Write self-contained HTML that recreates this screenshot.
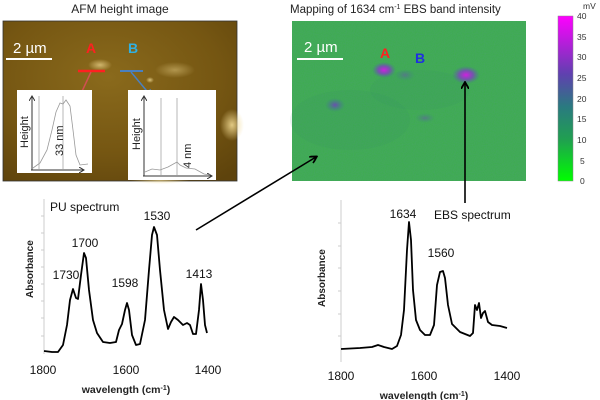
<!DOCTYPE html>
<html><head><meta charset="utf-8"><style>
html,body{margin:0;padding:0;background:#fff;width:600px;height:400px;overflow:hidden}
svg text{font-family:"Liberation Sans",sans-serif}
</style></head><body>
<svg width="600" height="400" viewBox="0 0 600 400" xmlns="http://www.w3.org/2000/svg">
<defs>
<radialGradient id="afm" cx="0.45" cy="0.35" r="0.8">
<stop offset="0" stop-color="#8a6a1c"/><stop offset="0.6" stop-color="#755612"/><stop offset="1" stop-color="#5e430c"/>
</radialGradient>
<radialGradient id="glow"><stop offset="0" stop-color="#f0d890"/><stop offset="1" stop-color="#f0d890" stop-opacity="0"/></radialGradient>
<radialGradient id="pb"><stop offset="0" stop-color="#d020e0"/><stop offset="0.5" stop-color="#8040c0" stop-opacity="0.8"/><stop offset="1" stop-color="#4a6aa0" stop-opacity="0"/></radialGradient>
<radialGradient id="bb"><stop offset="0" stop-color="#6a50b0"/><stop offset="1" stop-color="#3a7a90" stop-opacity="0"/></radialGradient>
<linearGradient id="cb" x1="0" y1="1" x2="0" y2="0">
<stop offset="0" stop-color="#00ff00"/><stop offset="0.25" stop-color="#20a050"/><stop offset="0.45" stop-color="#2a7a80"/><stop offset="0.65" stop-color="#6040b0"/><stop offset="1" stop-color="#ff00ff"/>
</linearGradient>
<filter id="noise"><feTurbulence type="fractalNoise" baseFrequency="0.9" numOctaves="1" result="n"/><feColorMatrix type="matrix" values="0 0 0 0 0.1  0 0 0 0 0.3  0 0 0 0 0.3  0 0 0 0.35 0"/><feComposite in2="SourceGraphic" operator="in"/></filter>
<marker id="ah" markerWidth="8" markerHeight="8" refX="6" refY="4" orient="auto" markerUnits="userSpaceOnUse"><path d="M0,0 L7,4 L0,8" fill="none" stroke="#000" stroke-width="1.8"/></marker>
<marker id="ahr" markerWidth="8" markerHeight="8" refX="6" refY="4" orient="auto" markerUnits="userSpaceOnUse"><path d="M0,0 L7,4 L0,8" fill="none" stroke="#d05050" stroke-width="1.5"/></marker>
<marker id="ahb" markerWidth="8" markerHeight="8" refX="6" refY="4" orient="auto" markerUnits="userSpaceOnUse"><path d="M0,0 L7,4 L0,8" fill="none" stroke="#4a80c0" stroke-width="1.5"/></marker>
<marker id="ak" markerWidth="6" markerHeight="6" refX="5" refY="3" orient="auto" markerUnits="userSpaceOnUse"><path d="M0,0 L5,3 L0,6" fill="none" stroke="#333" stroke-width="1"/></marker>
</defs>

<!-- AFM -->
<text x="120" y="13" font-size="12" text-anchor="middle" fill="#222">AFM height image</text>
<rect x="3" y="21" width="234" height="160" fill="url(#afm)" stroke="#333" stroke-width="0.8"/>
<ellipse cx="100" cy="65" rx="12" ry="6" fill="url(#glow)" opacity="0.7"/>
<ellipse cx="175" cy="70" rx="20" ry="8" fill="url(#glow)" opacity="0.45"/>
<ellipse cx="150" cy="80" rx="4" ry="3" fill="url(#glow)" opacity="0.8"/>
<ellipse cx="232" cy="125" rx="12" ry="16" fill="url(#glow)" opacity="0.9"/>
<ellipse cx="160" cy="180" rx="30" ry="4" fill="url(#glow)" opacity="0.7"/>
<line x1="6" y1="59" x2="52" y2="59" stroke="#fff" stroke-width="2"/>
<text x="13" y="53" font-size="15" fill="#fff">2 µm</text>
<text x="86" y="53" font-size="14" font-weight="bold" fill="#ff2020">A</text>
<text x="128" y="53" font-size="14" font-weight="bold" fill="#30b0e0">B</text>
<line x1="78" y1="71" x2="105" y2="71" stroke="#ff2020" stroke-width="2.5"/>
<line x1="120" y1="71" x2="143" y2="71" stroke="#4a80c0" stroke-width="2"/>
<line x1="91" y1="72" x2="78" y2="100" stroke="#d05050" stroke-width="1.5" marker-end="url(#ahr)"/>
<line x1="131" y1="72" x2="151" y2="96" stroke="#4a80c0" stroke-width="1.5" marker-end="url(#ahb)"/>
<rect x="17" y="90" width="75" height="83" fill="#fff"/>
<line x1="32" y1="170" x2="32" y2="96" stroke="#333" marker-end="url(#ak)"/>
<line x1="31" y1="170" x2="84" y2="170" stroke="#333" marker-end="url(#ak)"/>
<line x1="39" y1="96" x2="39" y2="170" stroke="#999" stroke-width="0.7"/>
<line x1="63" y1="96" x2="63" y2="170" stroke="#999" stroke-width="0.7"/>
<path d="M33,168 L40,163 L47,150 L52,130 L56,112 L60,103 L63,104 L66,100 L70,106 L73,130 L76,155 L80,165 L88,164" fill="none" stroke="#999" stroke-width="0.8"/>
<text transform="translate(28,148) rotate(-90)" font-size="11" fill="#222">Height</text>
<text transform="translate(63,156) rotate(-90)" font-size="11" fill="#222">33 nm</text>
<rect x="128" y="90" width="88" height="90" fill="#fff"/>
<line x1="144" y1="176" x2="144" y2="96" stroke="#333" marker-end="url(#ak)"/>
<line x1="143" y1="176" x2="212" y2="176" stroke="#333" marker-end="url(#ak)"/>
<line x1="161" y1="98" x2="161" y2="176" stroke="#999" stroke-width="0.7"/>
<line x1="177" y1="98" x2="177" y2="176" stroke="#999" stroke-width="0.7"/>
<path d="M145,172 L152,169 L160,170 L168,167 L177,162 L180,165 L186,168 L195,169 L204,174 L210,175" fill="none" stroke="#999" stroke-width="0.8"/>
<text transform="translate(140,150) rotate(-90)" font-size="11" fill="#222">Height</text>
<text transform="translate(191,168) rotate(-90)" font-size="11" fill="#222">4 nm</text>

<!-- Map -->
<text x="290" y="13" font-size="11.5" fill="#222">Mapping of  1634 cm<tspan font-size="7" dy="-4">-1</tspan><tspan dy="4"> EBS band intensity</tspan></text>
<rect x="292" y="21" width="234" height="160" fill="#3cae4a"/>
<rect x="292" y="21" width="234" height="160" fill="#3cae4a" filter="url(#noise)"/>
<ellipse cx="350" cy="120" rx="60" ry="30" fill="#2f8a70" opacity="0.1"/>
<ellipse cx="420" cy="90" rx="50" ry="20" fill="#2f8a70" opacity="0.1"/>
<ellipse cx="384" cy="70" rx="12" ry="8" fill="url(#pb)"/>
<ellipse cx="405" cy="75" rx="10" ry="6" fill="url(#bb)" opacity="0.5"/>
<ellipse cx="466" cy="75" rx="14" ry="9" fill="url(#pb)"/>
<ellipse cx="335" cy="105" rx="10" ry="7" fill="url(#bb)"/>
<ellipse cx="425" cy="118" rx="10" ry="5" fill="url(#bb)" opacity="0.5"/>
<line x1="297" y1="59" x2="343" y2="59" stroke="#fff" stroke-width="2"/>
<text x="304" y="52" font-size="15" fill="#fff">2 µm</text>
<text x="380" y="58" font-size="14" font-weight="bold" fill="#ff2020">A</text>
<text x="415" y="63" font-size="14" font-weight="bold" fill="#2030e0">B</text>
<!-- colorbar -->
<rect x="558" y="16" width="15" height="165" fill="url(#cb)" stroke="#888" stroke-width="0.5"/>
<g font-size="8.5" fill="#333">
<text x="583" y="9">mV</text>
<text x="577" y="19">40</text><text x="577" y="40">35</text><text x="577" y="60">30</text><text x="577" y="81">25</text><text x="577" y="102">20</text><text x="577" y="122">15</text><text x="577" y="143">10</text><text x="580" y="164">5</text><text x="580" y="184">0</text>
</g>

<!-- arrows -->
<line x1="196" y1="230" x2="316" y2="157" stroke="#000" stroke-width="1.6" marker-end="url(#ah)"/>
<line x1="465" y1="203" x2="465" y2="83" stroke="#000" stroke-width="1.6" marker-end="url(#ah)"/>

<!-- PU spectrum -->
<line x1="44" y1="199" x2="44" y2="354" stroke="#ccc" stroke-width="1"/>
<g stroke="#ccc"><line x1="41" y1="216" x2="44" y2="216"/><line x1="41" y1="233" x2="44" y2="233"/><line x1="41" y1="250" x2="44" y2="250"/><line x1="41" y1="267" x2="44" y2="267"/><line x1="41" y1="284" x2="44" y2="284"/><line x1="41" y1="301" x2="44" y2="301"/><line x1="41" y1="318" x2="44" y2="318"/><line x1="41" y1="336" x2="44" y2="336"/></g>
<path d="M44,351 L52,352 L58,352 L63,345 L67,325 L70,300 L73,289 L76,298 L78,299 L81,275 L84,253 L86,258 L89,290 L93,320 L97,333 L103,342 L110,343 L116,342 L119,330 L122,324 L125,310 L127,303 L129,310 L132,335 L136,345 L140,344 L145,320 L149,270 L152,235 L154,227 L157,235 L160,270 L164,310 L168,329 L171,322 L174,317 L178,320 L183,325 L187,323 L190,325 L193,334 L196,334 L199,310 L201,284 L203,300 L205,325 L207,333" fill="none" stroke="#000" stroke-width="1.8" stroke-linejoin="round"/>
<g font-size="12" fill="#111">
<text x="50" y="211">PU spectrum</text>
<text x="157" y="220" text-anchor="middle">1530</text>
<text x="85" y="247" text-anchor="middle">1700</text>
<text x="66" y="279" text-anchor="middle">1730</text>
<text x="125" y="287" text-anchor="middle">1598</text>
<text x="199" y="278" text-anchor="middle">1413</text>
<text x="43" y="374" text-anchor="middle">1800</text>
<text x="126" y="374" text-anchor="middle">1600</text>
<text x="208" y="374" text-anchor="middle">1400</text>
</g>
<text x="126" y="393" font-size="10.5" font-weight="bold" text-anchor="middle" fill="#222">wavelength (cm<tspan font-size="7" dy="-3">-1</tspan><tspan dy="3">)</tspan></text>
<text transform="translate(33,298) rotate(-90)" font-size="10" font-weight="bold" fill="#222">Absorbance</text>

<!-- EBS spectrum -->
<line x1="341" y1="200" x2="341" y2="362" stroke="#ccc" stroke-width="1"/>
<g stroke="#ccc"><line x1="338" y1="223" x2="341" y2="223"/><line x1="338" y1="246" x2="341" y2="246"/><line x1="338" y1="268" x2="341" y2="268"/><line x1="338" y1="291" x2="341" y2="291"/><line x1="338" y1="314" x2="341" y2="314"/><line x1="338" y1="336" x2="341" y2="336"/></g>
<path d="M341,349 L360,348 L372,347 L378,345 L384,347 L392,349 L397,346 L401,335 L404,310 L407,250 L409,222 L411,240 L413,290 L416,320 L420,330 L425,335 L430,335 L434,325 L437,285 L440,272 L443,271 L445,278 L448,305 L452,324 L460,332 L470,336 L473,333 L475,305 L477,310 L479,303 L481,318 L483,313 L485,311 L488,322 L492,325 L500,326 L507,328" fill="none" stroke="#000" stroke-width="1.8" stroke-linejoin="round"/>
<g font-size="12" fill="#111">
<text x="403" y="218" text-anchor="middle">1634</text>
<text x="441" y="257" text-anchor="middle">1560</text>
<text x="434" y="219">EBS spectrum</text>
<text x="341" y="380" text-anchor="middle">1800</text>
<text x="424" y="380" text-anchor="middle">1600</text>
<text x="507" y="380" text-anchor="middle">1400</text>
</g>
<text x="424" y="399" font-size="10.5" font-weight="bold" text-anchor="middle" fill="#222">wavelength (cm<tspan font-size="7" dy="-3">-1</tspan><tspan dy="3">)</tspan></text>
<text transform="translate(325,307) rotate(-90)" font-size="10" font-weight="bold" fill="#222">Absorbance</text>
</svg>
</body></html>
